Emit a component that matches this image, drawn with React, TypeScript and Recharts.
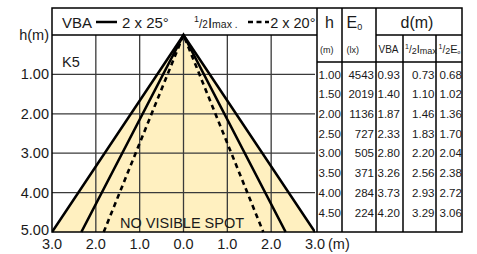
import React from 'react';
import { ComposedChart, Line, Area, XAxis, YAxis, ReferenceLine } from 'recharts';

// ---- chart data ----
const xTicks = [-3, -2, -1, 0, 1, 2, 3];
const yTicks = [0, 1, 2, 3, 4, 5];
const gridX = [-2, -1, 0, 1, 2];
const gridY = [1, 2, 3, 4];
const beamKeys = ['outer', 'vba', 'halfImax'];
const beamHalfWidthAt5m = [3.0, 2.33, 1.82];
const apexH = 0;
const baseH = 5;

// ---- table data ----
const tableH = [1.0, 1.5, 2.0, 2.5, 3.0, 3.5, 4.0, 4.5];
const tableE0 = [4543, 2019, 1136, 727, 505, 371, 284, 224];
const tableVBA = [0.93, 1.4, 1.87, 2.33, 2.8, 3.26, 3.73, 4.2];
const tableHalfImax = [0.73, 1.1, 1.46, 1.83, 2.2, 2.56, 2.93, 3.29];
const tableHalfE = [0.68, 1.02, 1.36, 1.7, 2.04, 2.38, 2.72, 3.06];

// build chart rows
const xs: number[] = [];
beamHalfWidthAt5m.forEach((w) => { xs.push(-w, w); });
xs.push(0);
const sortedX = Array.from(new Set(xs)).sort((a, b) => a - b);
const chartData = sortedX.map((x) => {
  const row: any = { x };
  beamKeys.forEach((k, i) => {
    const w = beamHalfWidthAt5m[i];
    if (x === 0) row[k] = apexH;
    else if (Math.abs(Math.abs(x) - w) < 1e-9) row[k] = baseH;
    else row[k] = null;
  });
  return row;
});

const W = 477;
const H = 254;
const PLOT_L = 52;
const PLOT_R = 315;
const PLOT_T = 35;
const PLOT_B = 232;
const FONT = '"Liberation Sans", Arial, Helvetica, sans-serif';
const FILL = '#FFF0C0';
const TXT = '#1a1a1a';

const hToY = (h: number) => PLOT_T + ((h - apexH) / (baseH - apexH)) * (PLOT_B - PLOT_T);

const YTick = (props: any) => {
  const { x, y, payload } = props;
  const v = payload.value;
  const label = v === 0 ? 'h(m)' : v.toFixed(2);
  const dy = v === 5 ? -2.5 : 0;
  return (
    <text x={x} y={y + dy + 5} textAnchor="end" fontSize={14.5} fontFamily={FONT} fill={TXT}>
      {label}
    </text>
  );
};

const XTick = (props: any) => {
  const { x, y, payload } = props;
  return (
    <text x={x} y={y + 10.5} textAnchor="middle" fontSize={14.5} fontFamily={FONT} fill={TXT}>
      {Math.abs(payload.value).toFixed(1)}
    </text>
  );
};

const Overlay = () => {
  const colX = { tL: 317, e: 342, vba: 376, hi: 403, he: 436, r: 462 };
  const lw = 1.5;
  return (
    <svg width={W} height={H} style={{ position: 'absolute', left: 0, top: 0, pointerEvents: 'none' }}>
      <g stroke="#000" strokeWidth={lw} fill="none">
        <rect x={PLOT_L} y={8} width={colX.r - PLOT_L} height={PLOT_B - 8} />
        <line x1={PLOT_L} y1={PLOT_T} x2={colX.tL} y2={PLOT_T} />
        <line x1={colX.tL} y1={8} x2={colX.tL} y2={PLOT_B} />
        <line x1={colX.e} y1={8} x2={colX.e} y2={PLOT_B} />
        <line x1={colX.vba} y1={8} x2={colX.vba} y2={PLOT_B} />
        <line x1={colX.hi} y1={PLOT_T} x2={colX.hi} y2={PLOT_B} />
        <line x1={colX.he} y1={PLOT_T} x2={colX.he} y2={PLOT_B} />
        <line x1={colX.vba} y1={PLOT_T} x2={colX.r} y2={PLOT_T} />
        <line x1={colX.tL} y1={62} x2={colX.r} y2={62} />
      </g>
      {/* legend header */}
      <g fontFamily={FONT} fill={TXT}>
        <text x={62} y={27.5} fontSize={15}>VBA</text>
        <line x1={96} y1={22} x2={117} y2={22} stroke="#000" strokeWidth={2.5} />
        <text x={122} y={27.5} fontSize={15}>2 x 25°</text>
        <text x={194} y={27.5} fontSize={15}>
          <tspan fontSize={9} dy={-6}>1</tspan>
          <tspan fontSize={12} dy={6}>/</tspan>
          <tspan fontSize={10}>2</tspan>
          <tspan fontSize={15}>I</tspan>
          <tspan fontSize={10.5}>max</tspan>
          <tspan fontSize={10}> .</tspan>
        </text>
        <line x1={248} y1={22} x2={269} y2={22} stroke="#000" strokeWidth={2.5} strokeDasharray="5 3.5" />
        <text x={315.5} y={27.5} fontSize={14.5} textAnchor="end">2 x 20°</text>
        <text x={62} y={67} fontSize={14.5}>K5</text>
        <text x={120} y={228} fontSize={14.5}>NO VISIBLE SPOT</text>
        <text x={328} y={248.5} fontSize={14.5}>(m)</text>
      </g>
      {/* table header */}
      <g fontFamily={FONT} fill={TXT}>
        <text x={329.5} y={28} fontSize={16} textAnchor="middle">h</text>
        <text x={346.5} y={28} fontSize={16}>E<tspan fontSize={9} dy={1.5}>0</tspan></text>
        <text x={417} y={28} fontSize={16} textAnchor="middle">d(m)</text>
        <text x={320} y={52.5} fontSize={9}>(m)</text>
        <text x={346.5} y={52.5} fontSize={9}>(lx)</text>
        <text x={378.5} y={52.5} fontSize={10}>VBA</text>
        <text x={405} y={52.5} fontSize={10}>
          <tspan fontSize={7} dy={-4}>1</tspan>
          <tspan fontSize={10} dy={4}>/</tspan>
          <tspan fontSize={9} dy={1}>2</tspan>
          <tspan fontSize={11} dy={-1}>I</tspan>
          <tspan fontSize={9} dy={1}>max</tspan>
        </text>
        <text x={438.5} y={52.5} fontSize={10}>
          <tspan fontSize={7} dy={-4}>1</tspan>
          <tspan fontSize={10} dy={4}>/</tspan>
          <tspan fontSize={9} dy={1}>2</tspan>
          <tspan fontSize={11} dy={-1}>E</tspan>
          <tspan fontSize={5} dy={1}>o</tspan>
        </text>
      </g>
      {/* table rows */}
      <g fontFamily={FONT} fill={TXT} fontSize={11.5}>
        {tableH.map((h, i) => {
          const y = hToY(h) + 4.2;
          return (
            <g key={i}>
              <text x={318.5} y={y}>{h.toFixed(2)}</text>
              <text x={374} y={y} textAnchor="end">{tableE0[i]}</text>
              <text x={377.5} y={y}>{tableVBA[i].toFixed(2)}</text>
              <text x={434.5} y={y} textAnchor="end">{tableHalfImax[i].toFixed(2)}</text>
              <text x={439.5} y={y}>{tableHalfE[i].toFixed(2)}</text>
            </g>
          );
        })}
      </g>
    </svg>
  );
};

export default function App() {
  return (
    <div style={{ position: 'absolute', left: 0, top: 0, width: W, height: H, background: '#fff' }}>
      <ComposedChart
        width={W}
        height={H}
        data={chartData}
        margin={{ top: PLOT_T, left: 0, right: W - PLOT_R, bottom: 0 }}
      >
        <XAxis
          type="number"
          dataKey="x"
          domain={[-3, 3]}
          ticks={xTicks}
          allowDataOverflow
          axisLine={false}
          tickLine={false}
          tickSize={0}
          tickMargin={6}
          height={H - PLOT_B}
          tick={<XTick />}
          interval={0}
        />
        <YAxis
          type="number"
          domain={[0, 5]}
          reversed
          ticks={yTicks}
          axisLine={false}
          tickLine={false}
          tickSize={0}
          tickMargin={3}
          width={PLOT_L}
          tick={<YTick />}
          interval={0}
        />
        <Area
          type="linear"
          dataKey="outer"
          baseValue={5}
          connectNulls
          stroke="none"
          fill={FILL}
          fillOpacity={1}
          isAnimationActive={false}
        />
        {gridX.map((v) => (
          <ReferenceLine key={'gx' + v} x={v} stroke="#3a3a3a" strokeWidth={1.3} />
        ))}
        {gridY.map((v) => (
          <ReferenceLine key={'gy' + v} y={v} stroke="#3a3a3a" strokeWidth={1.3} />
        ))}
        <Line type="linear" dataKey="outer" connectNulls stroke="#000" strokeWidth={2.6} dot={false} isAnimationActive={false} />
        <Line type="linear" dataKey="vba" connectNulls stroke="#000" strokeWidth={2.6} dot={false} isAnimationActive={false} />
        <Line type="linear" dataKey="halfImax" connectNulls stroke="#000" strokeWidth={2.6} strokeDasharray="5 4" dot={false} isAnimationActive={false} />
      </ComposedChart>
      <Overlay />
    </div>
  );
}
